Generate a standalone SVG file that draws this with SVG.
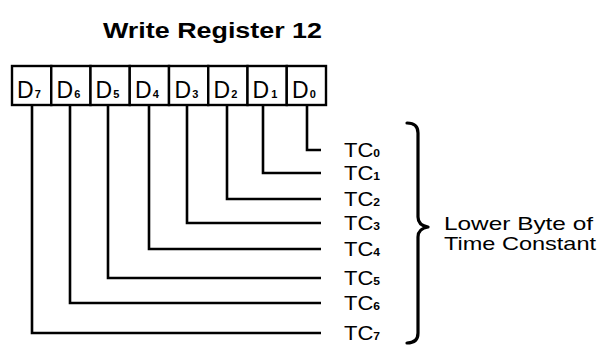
<svg xmlns="http://www.w3.org/2000/svg" width="598" height="347" viewBox="0 0 598 347">
<style>
  text { font-family: "Liberation Sans", Arial, Helvetica, sans-serif; fill: #000; }
  .title { font-size: 22.5px; font-weight: bold; }
  .d { font-size: 23px; }
  .sub { font-size: 11px; font-weight: bold; }
  .tc { font-size: 20px; }
  .lbl { font-size: 18.5px; }
  .cell { fill: #fff; stroke: #000; stroke-width: 2.4; }
  .wire { fill: none; stroke: #000; stroke-width: 2.6; stroke-linejoin: miter; stroke-linecap: butt; }
  .brace { fill: none; stroke: #000; stroke-width: 3.2; stroke-linecap: round; stroke-linejoin: round; }
</style>
<rect width="598" height="347" fill="#fff"/>
<g id="title"><text class="title" x="103" y="37.5" textLength="219" lengthAdjust="spacingAndGlyphs">Write Register 12</text></g>
<g id="register">
  <g id="D7"><rect class="cell" x="12" y="66" width="39.25" height="39"/><text class="d" x="17" y="98">D<tspan class="sub" dx="1">7</tspan></text></g>
  <g id="D6"><rect class="cell" x="51.25" y="66" width="39.25" height="39"/><text class="d" x="56.5" y="98">D<tspan class="sub" dx="1">6</tspan></text></g>
  <g id="D5"><rect class="cell" x="90.5" y="66" width="39.25" height="39"/><text class="d" x="95.5" y="98">D<tspan class="sub" dx="1">5</tspan></text></g>
  <g id="D4"><rect class="cell" x="129.75" y="66" width="39.25" height="39"/><text class="d" x="135" y="98">D<tspan class="sub" dx="1">4</tspan></text></g>
  <g id="D3"><rect class="cell" x="169" y="66" width="39.25" height="39"/><text class="d" x="174.5" y="98">D<tspan class="sub" dx="1">3</tspan></text></g>
  <g id="D2"><rect class="cell" x="208.25" y="66" width="39.25" height="39"/><text class="d" x="213.5" y="98">D<tspan class="sub" dx="1">2</tspan></text></g>
  <g id="D1"><rect class="cell" x="247.5" y="66" width="39.25" height="39"/><text class="d" x="252.5" y="98">D<tspan class="sub" dx="2">1</tspan></text></g>
  <g id="D0"><rect class="cell" x="286.75" y="66" width="39.25" height="39"/><text class="d" x="292" y="98">D<tspan class="sub" dx="1">0</tspan></text></g>
</g>
<g id="connectors">
  <path class="wire" d="M307 105 V150 H321"/>
  <path class="wire" d="M263 105 V173 H321"/>
  <path class="wire" d="M227 105 V199 H321"/>
  <path class="wire" d="M187 105 V223 H321"/>
  <path class="wire" d="M149 105 V249 H321"/>
  <path class="wire" d="M108 105 V278 H321"/>
  <path class="wire" d="M70 105 V303 H321"/>
  <path class="wire" d="M32 105 V333 H321"/>
</g>
<g id="TC0"><text class="tc" transform="translate(344 157) scale(1.1 1)">TC<tspan class="sub">0</tspan></text></g>
<g id="TC1"><text class="tc" transform="translate(344 180) scale(1.1 1)">TC<tspan class="sub">1</tspan></text></g>
<g id="TC2"><text class="tc" transform="translate(344 206) scale(1.1 1)">TC<tspan class="sub">2</tspan></text></g>
<g id="TC3"><text class="tc" transform="translate(344 230) scale(1.1 1)">TC<tspan class="sub">3</tspan></text></g>
<g id="TC4"><text class="tc" transform="translate(344 256) scale(1.1 1)">TC<tspan class="sub">4</tspan></text></g>
<g id="TC5"><text class="tc" transform="translate(344 285) scale(1.1 1)">TC<tspan class="sub">5</tspan></text></g>
<g id="TC6"><text class="tc" transform="translate(344 310) scale(1.1 1)">TC<tspan class="sub">6</tspan></text></g>
<g id="TC7"><text class="tc" transform="translate(344 340) scale(1.1 1)">TC<tspan class="sub">7</tspan></text></g>
<g id="brace"><path class="brace" d="M407 123 C414 123 418 126 418 133 V217 C418 223 422 226 428 227 C422 228 418 231 418 237 V333 C418 340 414 343 407 343"/></g>
<g id="label">
  <text class="lbl" x="444" y="229.5" textLength="149" lengthAdjust="spacingAndGlyphs">Lower Byte of</text>
  <text class="lbl" x="444" y="249.5" textLength="152" lengthAdjust="spacingAndGlyphs">Time Constant</text>
</g>
</svg>
